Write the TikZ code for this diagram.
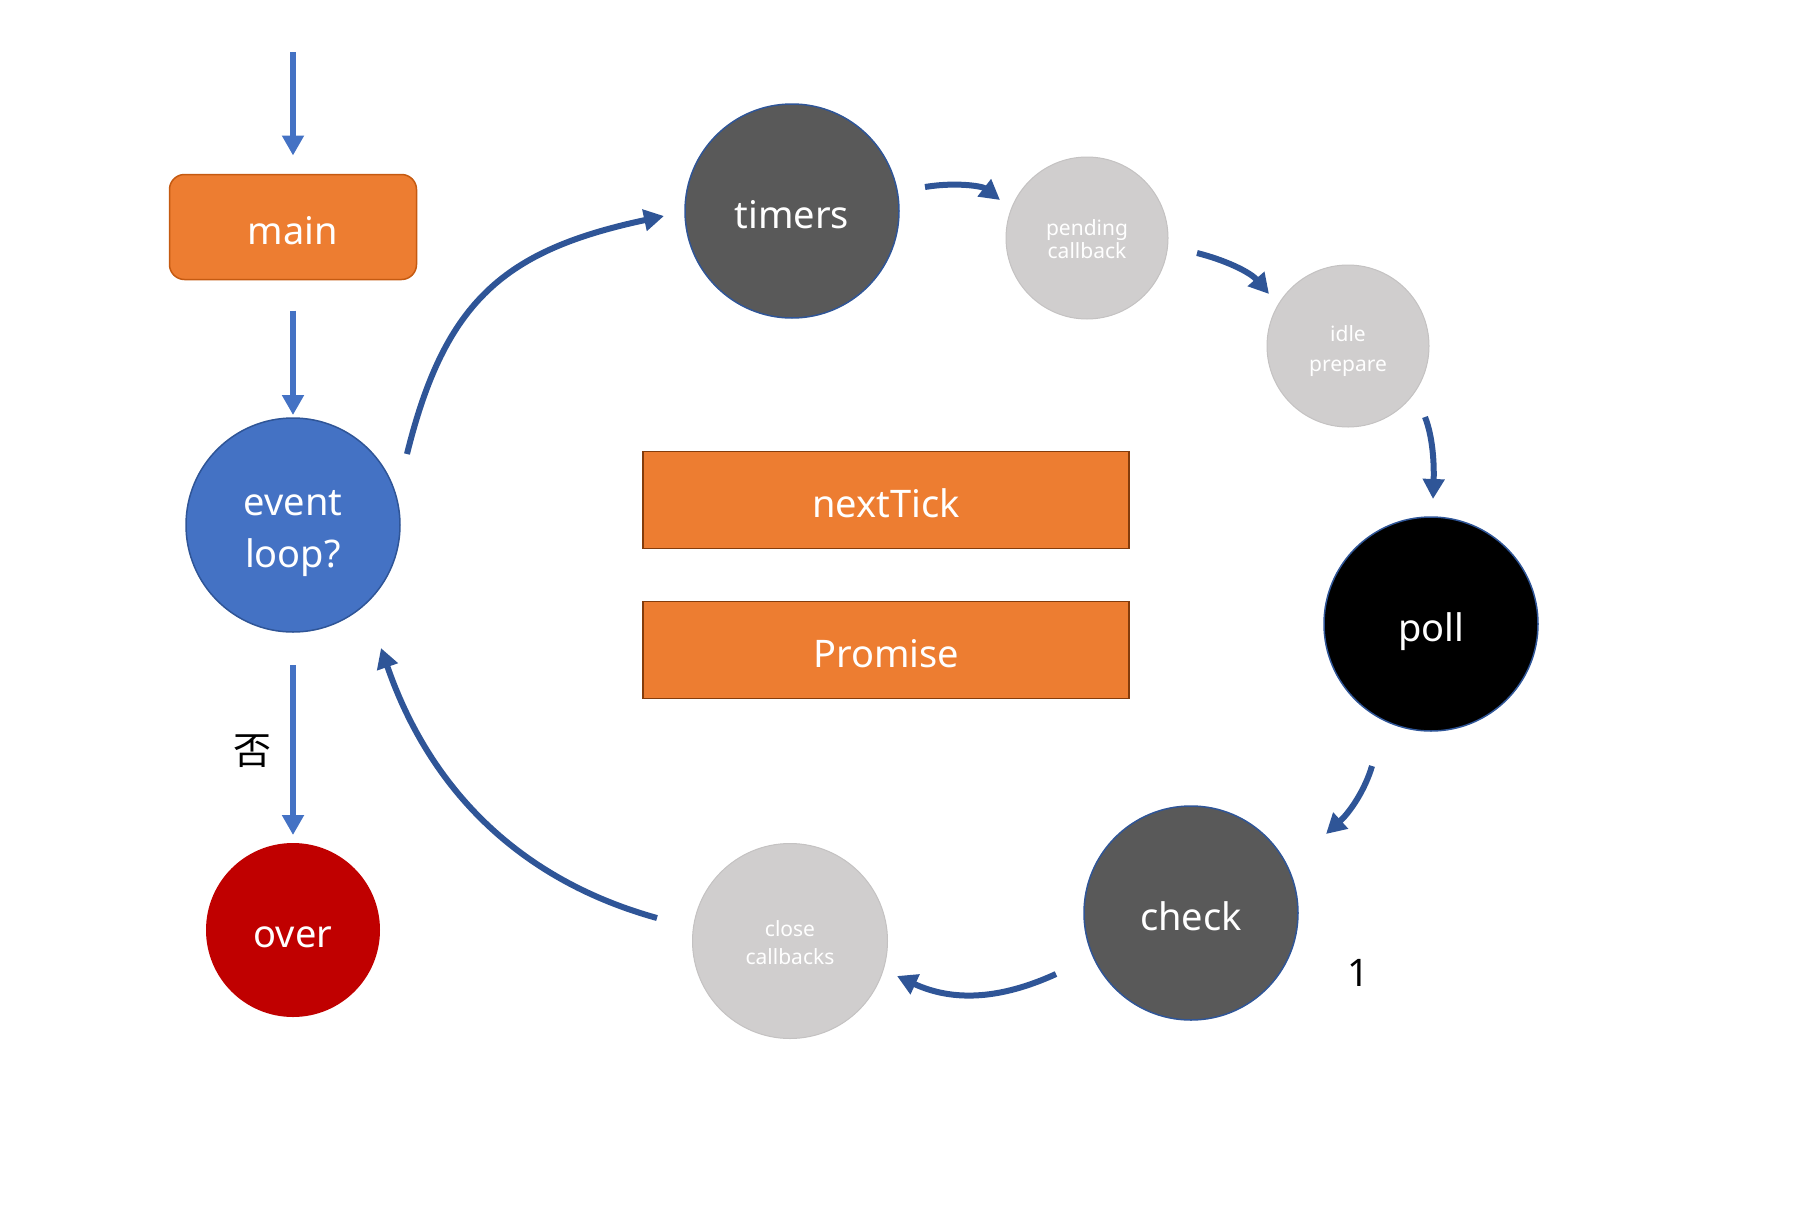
\documentclass[tikz,border=0pt]{standalone}
\usepackage{fontspec}
\setmainfont{Noto Sans}
\newfontfamily\cjk{Noto Sans CJK SC}
\usetikzlibrary{arrows.meta,calc}
\definecolor{orng}{HTML}{ED7D31}
\definecolor{orngdk}{HTML}{C55A11}
\definecolor{brdbrown}{HTML}{843C0C}
\definecolor{evblue}{HTML}{4472C4}
\definecolor{dkblue}{HTML}{2F5597}
\definecolor{dgrey}{HTML}{595959}
\definecolor{lgrey}{HTML}{D0CECE}
\definecolor{lgreybd}{HTML}{C4C2C2}
\definecolor{overred}{HTML}{C00000}
% two centred lines: #1, #2, baseline skip #3, first baseline raised by #4 above node centre
\newcommand\twolines[4]{\raisebox{#4}[0pt][0pt]{\vtop{\baselineskip=#3\lineskiplimit=-100pt\lineskip=0pt\halign{\hfil##\hfil\cr #1\cr #2\cr}}}}
\tikzset{
  big/.style={font=\fontsize{38}{48}\selectfont, text=white},
  oneline/.style={text height=34pt, text depth=0pt},
  small/.style={font=\fontsize{21}{27}\selectfont, text=white},
  circ/.style={circle, inner sep=0pt, outer sep=0pt},
  phase/.style={circ, big, minimum size=214pt, draw=dkblue, line width=1.5pt},
  minor/.style={circ, small, fill=lgrey, draw=lgreybd, line width=1pt},
  straightarr/.style={draw=evblue, line width=6pt, -{Triangle[width=21pt,length=20pt]}},
  curvearr/.style={draw=dkblue, line width=6pt, -{Triangle[width=21pt,length=20pt]}},
  qbox/.style={rectangle, inner sep=0pt, outer sep=0pt, fill=orng, draw=brdbrown, line width=1.5pt, minimum width=486pt, minimum height=97pt, big, oneline},
}
\begin{document}
\begin{tikzpicture}[x=1pt,y=-1pt]
\useasboundingbox (0,0) rectangle (1810,1210);
% nodes
\node[rectangle, rounded corners=15pt, fill=orng, draw=orngdk, line width=1.5pt, minimum width=247pt, minimum height=105pt, inner sep=0pt, outer sep=0pt, big, oneline] (main) at (293,227) {main};
\node[phase, fill=evblue] (ev) at (293,525) {\twolines{event}{loop?}{52pt}{10pt}};
\node[circ, big, oneline, fill=overred, minimum size=174pt] (over) at (293,930) {over};
\node[phase, oneline, fill=dgrey] (timers) at (792,211) {timers};
\node[minor, minimum size=162pt] (pend) at (1087,238) {\twolines{pending}{callback}{23.5pt}{3pt}};
\node[minor, minimum size=162pt] (idle) at (1348,346) {\twolines{idle}{prepare}{30pt}{4.3pt}};
\node[phase, oneline, fill=black] (poll) at (1431,624) {poll};
\node[phase, oneline, fill=dgrey] (check) at (1191,913) {check};
\node[minor, minimum size=195pt] (close) at (790,941) {\twolines{close}{callbacks}{27.7pt}{4.3pt}};
\node[qbox] (tick) at (886,500) {nextTick};
\node[qbox] (prom) at (886,650) {Promise};
\node[font=\cjk\fontsize{38}{44}\selectfont] (no) at (252,751) {否};
\node[font=\fontsize{38}{44}\selectfont] (one) at (1358,973) {1};
\coordinate (entry) at (293,52);
% straight arrows
\draw[straightarr] (entry) -- ($(main.north)+(0,-19)$);
\draw[straightarr] ($(main.south)+(0,31)$) -- ($(ev.north)+(0,-3)$);
\draw[straightarr] ($(ev.south)+(0,33)$) -- ($(over.north)+(0,-8)$);
% loop arrows
\draw[curvearr] ($(ev)+(114,-71)$) .. controls (445,300) and (505,250) .. ($(timers)+(-128,5)$);
\draw[curvearr] ($(timers)+(133,-24)$) .. controls (955,182) and (982,186) .. ($(pend)+(-87,-38)$);
\draw[curvearr] ($(pend)+(110,15)$) .. controls (1225,260) and (1250,272) .. ($(idle)+(-79,-52)$);
\draw[curvearr] ($(idle)+(77,71)$) .. controls (1434,440) and (1434,470) .. ($(poll)+(2,-125)$);
\draw[curvearr] ($(poll)+(-59,142)$) .. controls (1365,790) and (1350,812) .. ($(check)+(135,-79)$);
\draw[curvearr] ($(check)+(-135,61)$) .. controls (1010,995) and (960,1005) .. ($(close)+(107,35)$);
\draw[curvearr] ($(close)+(-133,-23)$) .. controls (520,880) and (430,790) .. ($(ev)+(88,123)$);
\end{tikzpicture}
\end{document}
